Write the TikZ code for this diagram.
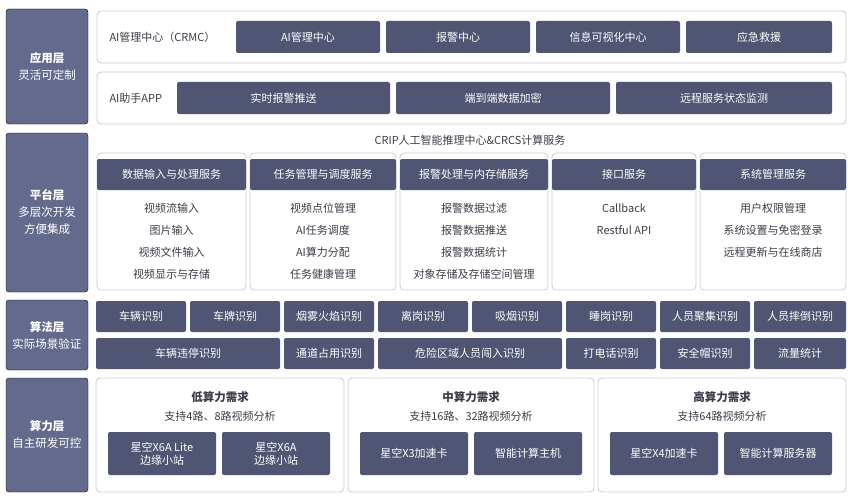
\documentclass[tikz,border=0pt]{standalone}
\usepackage{fontspec}
\setmainfont{Noto Sans CJK SC}
\usepackage{xcolor}
\definecolor{layerblue}{HTML}{646A8C}
\definecolor{darkbox}{HTML}{4F5572}
\definecolor{edgegray}{HTML}{C9CCD6}
\definecolor{txtgray}{HTML}{3A3D48}
\usetikzlibrary{positioning}
\tikzset{
  layer/.style={fill=layerblue, rounded corners=3pt, text=white, align=center, font=\fontsize{11.5}{17}\selectfont},
  frame/.style={draw=edgegray, fill=white, rounded corners=4pt, line width=0.8pt},
  dbox/.style={fill=darkbox, rounded corners=2pt, text=white, font=\fontsize{11}{13}\selectfont},
  plain/.style={text=txtgray, font=\fontsize{11}{13}\selectfont, align=center},
}
% box by corners: name, x1, y1, x2, y2, text
\newcommand{\blk}[6]{\node[dbox, minimum width=#4-#2, minimum height=#5-#3, inner sep=0pt] (#1) at ({(#2+#4)/2},{(#3+#5)/2}) {#6};}
\begin{document}
\begin{tikzpicture}[x=1pt, y=-1pt]
  \useasboundingbox (0,0) rectangle (850,500);

  % layer labels
  \draw[layer] (6,9) rectangle (88,124);
  \node[layer, fill=none] (app) at (47,66) {\textbf{应用层}\\灵活可定制};
  \draw[layer] (6,133) rectangle (88,292);
  \node[layer, fill=none] (plat) at (47,212) {\textbf{平台层}\\多层次开发\\方便集成};
  \draw[layer] (6,300) rectangle (88,370);
  \node[layer, fill=none] (algo) at (47,335) {\textbf{算法层}\\实际场景验证};
  \draw[layer] (6,378) rectangle (88,492);
  \node[layer, fill=none] (comp) at (47,435) {\textbf{算力层}\\自主研发可控};

  % application layer
  \draw[frame] (97,11) rectangle (846,63);
  \node[plain, anchor=west] (crmc) at (106,37) {AI管理中心（CRMC）};
  \blk{mgr}{236}{21}{380}{53}{AI管理中心}
  \blk{alarm}{386}{21}{530}{53}{报警中心}
  \blk{vis}{536}{21}{680}{53}{信息可视化中心}
  \blk{rescue}{686}{21}{832}{53}{应急救援}
  \draw[frame] (97,72) rectangle (846,124);
  \node[plain, anchor=west] (aiapp) at (106,98) {AI助手APP};
  \blk{push}{177}{82}{390}{114}{实时报警推送}
  \blk{crypt}{396}{82}{610}{114}{端到端数据加密}
  \blk{remote}{616}{82}{832}{114}{远程服务状态监测}

  % platform layer
  \node[plain] (crip) at (470,140) {CRIP人工智能推理中心\&CRCS计算服务};
  \foreach \i/\xa/\xb/\head/\items in {
      1/97/246/数据输入与处理服务/{视频流输入\\图片输入\\视频文件输入\\视频显示与存储},
      2/250/396/任务管理与调度服务/{视频点位管理\\AI任务调度\\AI算力分配\\任务健康管理},
      3/400/548/报警处理与内存储服务/{报警数据过滤\\报警数据推送\\报警数据统计\\对象存储及存储空间管理},
      4/552/696/接口服务/{Callback\\Restful API},
      5/700/846/系统管理服务/{用户权限管理\\系统设置与免密登录\\远程更新与在线商店}} {
    \draw[frame] (\xa,153) rectangle (\xb,290);
    \blk{ph\i}{\xa+5}{159}{\xb-5}{190}{\head}
    \node[plain, anchor=north, font=\fontsize{11}{22}\selectfont] (pi\i) at ({(\xa+\xb)/2},200) {\items};
  }

  % algorithm layer
  \foreach \i/\xa/\xb/\t in {1/96/186/车辆识别, 2/190/280/车牌识别, 3/284/374/烟雾火焰识别,
      4/378/468/离岗识别, 5/472/562/吸烟识别, 6/566/656/睡岗识别, 7/660/750/人员聚集识别,
      8/754/846/人员摔倒识别} {
    \blk{al\i}{\xa}{301}{\xb}{332}{\t}
  }
  \foreach \i/\xa/\xb/\t in {1/96/280/车辆违停识别, 2/284/374/通道占用识别, 3/378/562/危险区域人员闯入识别,
      4/566/656/打电话识别, 5/660/750/安全帽识别, 6/754/846/流量统计} {
    \blk{ar\i}{\xa}{338}{\xb}{369}{\t}
  }

  % computing layer
  \foreach \i/\xa/\xb/\ttl/\sub in {1/96/344/低算力需求/支持4路、8路视频分析,
      2/348/594/中算力需求/支持16路、32路视频分析, 3/598/846/高算力需求/支持64路视频分析} {
    \draw[frame] (\xa,378) rectangle (\xb,492);
    \node[plain, font=\fontsize{11.5}{13}\selectfont\bfseries] (ct\i) at ({(\xa+\xb)/2},397) {\ttl};
    \node[plain] (cs\i) at ({(\xa+\xb)/2},416) {\sub};
  }
  \blk{c1}{108}{432}{216}{475}{\shortstack{星空X6A Lite\\边缘小站}}
  \blk{c2}{222}{432}{330}{475}{\shortstack{星空X6A\\边缘小站}}
  \blk{c3}{360}{432}{468}{475}{星空X3加速卡}
  \blk{c4}{474}{432}{582}{475}{智能计算主机}
  \blk{c5}{610}{432}{718}{475}{星空X4加速卡}
  \blk{c6}{724}{432}{832}{475}{智能计算服务器}
\end{tikzpicture}
\end{document}
